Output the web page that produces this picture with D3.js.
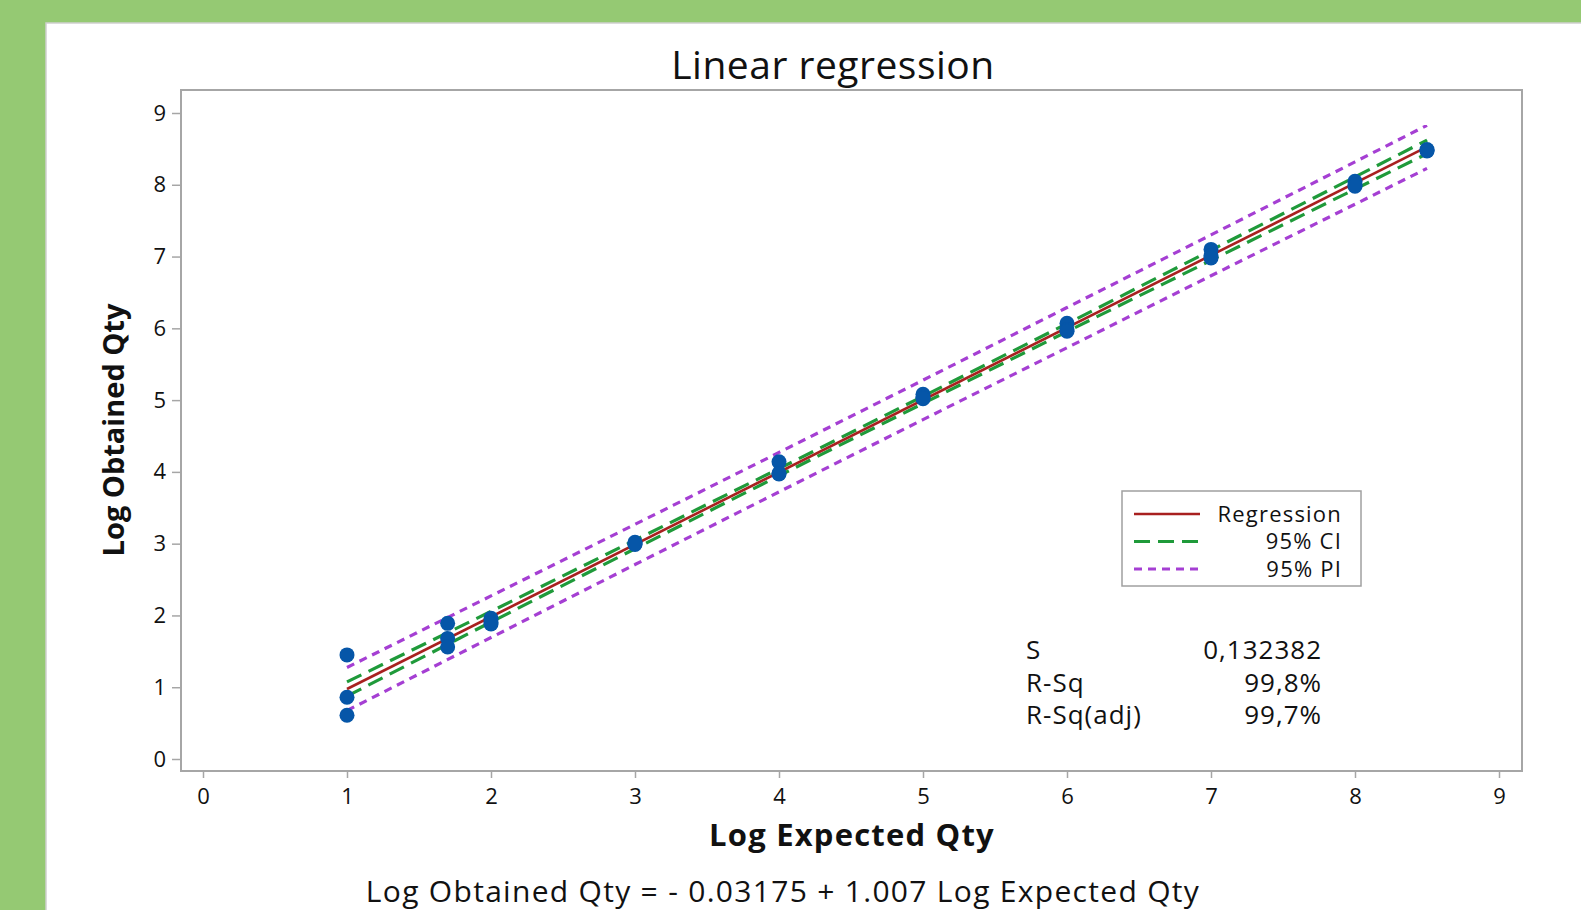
<!DOCTYPE html>
<html>
<head>
<meta charset="utf-8">
<script src="https://d3js.org/d3.v7.min.js"></script>
<title>Linear regression</title>
<style>
  html, body { margin: 0; padding: 0; background: #95c973; }
  svg { display: block; }
  text { font-family: "Open Sans", "Noto Sans", sans-serif; fill: #111; }
</style>
</head>
<body>
<div id="chart"></div>
<script>
    const expected = [1, 1, 1, 1.699, 1.699, 1.699, 2, 2, 2, 3, 3, 3, 4, 4, 4, 5, 5, 5, 6, 6, 6, 7, 7, 7, 8, 8, 8, 8.5, 8.5, 8.5];
    const obtained = [1.45, 0.86, 0.61, 1.89, 1.68, 1.56, 1.96, 1.90, 1.88, 3.02, 3.00, 2.99, 4.14, 3.98, 3.97, 5.08, 5.04, 5.02, 6.07, 5.98, 5.96, 7.10, 7.01, 6.98, 8.05, 8.00, 7.98, 8.49, 8.48, 8.47];

    // fitted line, as printed under the chart
    const intercept = -0.03175;
    const slope = 1.007;
    const fitX = [1, 8.5];

    // confidence / prediction bands
    const bandX   = [1, 2, 3, 4, 5, 6, 7, 8, 8.5];
    const ciUpper = [1.075, 2.057, 3.049, 4.046, 5.053, 6.065, 7.087, 8.109, 8.623];
    const ciLower = [0.875, 1.907, 2.929, 3.946, 4.953, 5.955, 6.947, 7.939, 8.433];
    const piUpper = [1.275, 2.272, 3.269, 4.271, 5.278, 6.290, 7.302, 8.319, 8.828];
    const piLower = [0.675, 1.692, 2.709, 3.721, 4.728, 5.730, 6.732, 7.729, 8.228];

    const xTicks = [0, 1, 2, 3, 4, 5, 6, 7, 8, 9];
    const yTicks = [0, 1, 2, 3, 4, 5, 6, 7, 8, 9];

    const legendLabels = ["Regression", "95% CI", "95% PI"];
    const statNames = ["S", "R-Sq", "R-Sq(adj)"];
    const statValues = ["0,132382", "99,8%", "99,7%"];

    const width = 1581, height = 910;
    const frame = { left: 181, top: 90, right: 1522, bottom: 771 };

    const colors = { reg: "#a8201f", ci: "#1f9a3a", pi: "#a53fd3", dot: "#0656a8" };

    const svg = d3.select("#chart").append("svg")
        .attr("width", width)
        .attr("height", height);

    // white panel on the green page
    svg.append("rect")
        .attr("x", 46).attr("y", 23)
        .attr("width", width).attr("height", height)
        .attr("fill", "#fff")
        .attr("stroke", "#cfcfcf")
        .attr("stroke-width", 1.5);

    const xScale = d3.scaleLinear().domain([0, 9]).range([203, 1499]);
    const yScale = d3.scaleLinear().domain([0, 9]).range([759, 113]);

    // plot frame
    svg.append("rect")
        .attr("x", frame.left).attr("y", frame.top)
        .attr("width", frame.right - frame.left)
        .attr("height", frame.bottom - frame.top)
        .attr("fill", "none")
        .attr("stroke", "#a6a6a6")
        .attr("stroke-width", 2);

    // axes
    const xAxis = svg.append("g")
        .attr("transform", "translate(0," + frame.bottom + ")")
        .call(d3.axisBottom(xScale).tickValues(xTicks).tickSize(7).tickPadding(10).tickFormat(d3.format("d")));
    const yAxis = svg.append("g")
        .attr("transform", "translate(" + frame.left + ",0)")
        .call(d3.axisLeft(yScale).tickValues(yTicks).tickSize(9).tickPadding(6).tickFormat(d3.format("d")));

    [xAxis, yAxis].forEach(function (g) {
        g.select(".domain").remove();
        g.selectAll(".tick line").attr("stroke", "#a6a6a6").attr("stroke-width", 1.5);
        g.selectAll(".tick text")
            .style("font-family", "'Open Sans', 'Noto Sans', sans-serif")
            .style("font-size", "22px")
            .attr("fill", "#111");
    });

    const line = d3.line()
        .x(function (d) { return xScale(d[0]); })
        .y(function (d) { return yScale(d[1]); });
    const curve = d3.line()
        .curve(d3.curveMonotoneX)
        .x(function (d) { return xScale(d[0]); })
        .y(function (d) { return yScale(d[1]); });

    // prediction band
    [piUpper, piLower].forEach(function (arr) {
        svg.append("path")
            .datum(bandX.map(function (x, i) { return [x, arr[i]]; }))
            .attr("d", curve)
            .attr("fill", "none")
            .attr("stroke", colors.pi)
            .attr("stroke-width", 3.2)
            .attr("stroke-dasharray", "8,6");
    });

    // confidence band
    [ciUpper, ciLower].forEach(function (arr) {
        svg.append("path")
            .datum(bandX.map(function (x, i) { return [x, arr[i]]; }))
            .attr("d", curve)
            .attr("fill", "none")
            .attr("stroke", colors.ci)
            .attr("stroke-width", 3.2)
            .attr("stroke-dasharray", "16,8");
    });

    // regression line
    svg.append("path")
        .datum(fitX.map(function (x) { return [x, intercept + slope * x]; }))
        .attr("d", line)
        .attr("fill", "none")
        .attr("stroke", colors.reg)
        .attr("stroke-width", 2.6);

    // points
    svg.append("g").selectAll("circle")
        .data(expected.map(function (x, i) { return [x, obtained[i]]; }))
        .enter()
        .append("circle")
        .attr("cx", function (d) { return xScale(d[0]); })
        .attr("cy", function (d) { return yScale(d[1]); })
        .attr("r", 7.5)
        .attr("fill", colors.dot);

    // titles
    svg.append("text")
        .attr("x", 833).attr("y", 79)
        .attr("text-anchor", "middle")
        .style("font-size", "39px")
        .style("letter-spacing", "0.5px")
        .text("Linear regression");

    svg.append("text")
        .attr("x", 852).attr("y", 846)
        .attr("text-anchor", "middle")
        .style("font-size", "31px")
        .style("font-weight", "bold")
        .style("letter-spacing", "1.2px")
        .text("Log Expected Qty");

    svg.append("text")
        .attr("transform", "translate(124,430) rotate(-90)")
        .attr("text-anchor", "middle")
        .style("font-size", "29px")
        .style("font-weight", "bold")
        .text("Log Obtained Qty");

    svg.append("text")
        .attr("x", 783).attr("y", 902)
        .attr("text-anchor", "middle")
        .style("font-size", "30px")
        .style("letter-spacing", "1.3px")
        .text("Log Obtained Qty = - 0.03175 + 1.007 Log Expected Qty");

    // legend
    const legend = svg.append("g");
    legend.append("rect")
        .attr("x", 1122).attr("y", 491)
        .attr("width", 239).attr("height", 95)
        .attr("fill", "#fff")
        .attr("stroke", "#a0a0a0")
        .attr("stroke-width", 1.5);
    const legendStyles = [
        { color: colors.reg, dash: null, w: 2.6 },
        { color: colors.ci, dash: "16,8", w: 3.2 },
        { color: colors.pi, dash: "8,6", w: 3.2 }
    ];
    legendLabels.forEach(function (label, i) {
        const y = 514 + i * 27.5;
        legend.append("line")
            .attr("x1", 1134).attr("x2", 1200)
            .attr("y1", y).attr("y2", y)
            .attr("stroke", legendStyles[i].color)
            .attr("stroke-width", legendStyles[i].w)
            .attr("stroke-dasharray", legendStyles[i].dash);
        legend.append("text")
            .attr("x", 1342).attr("y", y + 7.5)
            .attr("text-anchor", "end")
            .style("font-size", "22px")
            .style("letter-spacing", "1.2px")
            .text(label);
    });

    // fit statistics
    statNames.forEach(function (name, i) {
        const y = 659 + i * 32.5;
        svg.append("text")
            .attr("x", 1026).attr("y", y)
            .style("font-size", "26px")
            .style("letter-spacing", "1px")
            .text(name);
        svg.append("text")
            .attr("x", 1322).attr("y", y)
            .attr("text-anchor", "end")
            .style("font-size", "26px")
            .style("letter-spacing", "1px")
            .text(statValues[i]);
    });
</script>
</body>
</html>
